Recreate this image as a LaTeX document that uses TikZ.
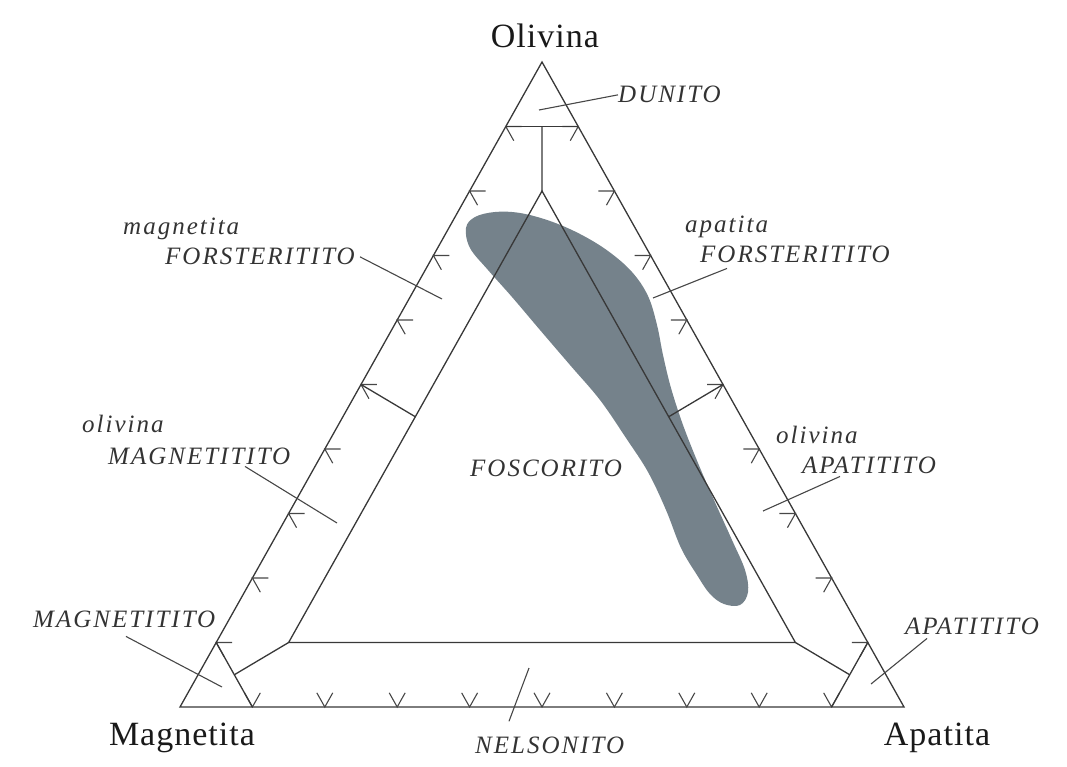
\documentclass[tikz,border=0pt]{standalone}
\usepackage{fontspec}
\setmainfont{Liberation Serif}
\newfontfamily\lblfont[LetterSpace=8]{Liberation Serif}
\newfontfamily\cornerfont[LetterSpace=3]{Liberation Serif}
\usetikzlibrary{calc}
\definecolor{blobgrey}{RGB}{117,130,139}

\begin{document}
\begin{tikzpicture}[
    x=1pt,
    y=-1pt,
    edge/.style={
        draw=black!78,
        line width=1.3pt
    },
    tick/.style={
        draw=black!72,
        line width=1.1pt
    },
    pointer/.style={
        draw=black!72,
        line width=1.1pt
    },
    field/.style={
        font=\lblfont\itshape\fontsize{25}{30}\selectfont,
        text=black!80,
        inner sep=0pt,
        anchor=base west
    },
    corner/.style={
        font=\cornerfont\fontsize{34}{40}\selectfont,
        text=black!90,
        inner sep=0pt,
        anchor=base
    }
]
\useasboundingbox (0,0) rectangle (1067,767);

% Corners
\coordinate (Ol) at (542,62);
\coordinate (Mt) at (180,707);
\coordinate (Ap) at (904,707);

% Field of the samples
\fill[blobgrey] plot[smooth cycle, tension=0.6] coordinates {
    (466,228) (475,217) (495,212) (520,213) (550,221) (580,234)
    (608,251) (632,272) (648,296) (657,325) (663,355) (671,388)
    (683,425) (698,463) (714,500) (732,540) (745,570) (748,592)
    (740,605) (724,604) (710,594) (697,575) (681,548) (666,510)
    (648,472) (626,438) (600,400) (570,365) (540,330) (512,297)
    (488,270) (470,248)};

% Outer triangle
\draw[edge] (Ol) -- (Mt) -- (Ap) -- cycle;

% Ticks every 10%
\foreach \i in {1,...,9} {
    \coordinate (t) at ($(Mt)!\i/10!(Ol)$);
    \draw[tick] ($(t)+0.022*(Ap)-0.022*(Mt)$) -- (t) -- ($(t)+0.022*(Ap)-0.022*(Ol)$);
    \coordinate (t) at ($(Mt)!\i/10!(Ap)$);
    \draw[tick] ($(t)+0.022*(Ol)-0.022*(Mt)$) -- (t) -- ($(t)+0.022*(Ol)-0.022*(Ap)$);
    \coordinate (t) at ($(Ap)!\i/10!(Ol)$);
    \draw[tick] ($(t)+0.022*(Mt)-0.022*(Ap)$) -- (t) -- ($(t)+0.022*(Mt)-0.022*(Ol)$);
}

% Field boundaries
\coordinate (o90a) at ($(Mt)!0.9!(Ol)$);
\coordinate (o90b) at ($(Ap)!0.9!(Ol)$);
\coordinate (o90c) at ($(o90a)!0.5!(o90b)$);
\coordinate (m90a) at ($(Mt)!0.1!(Ol)$);
\coordinate (m90b) at ($(Mt)!0.1!(Ap)$);
\coordinate (m90c) at ($(m90a)!0.5!(m90b)$);
\coordinate (a90a) at ($(Ap)!0.1!(Ol)$);
\coordinate (a90b) at ($(Ap)!0.1!(Mt)$);
\coordinate (a90c) at ($(a90a)!0.5!(a90b)$);
\coordinate (intop) at ($0.8*(Ol)+0.1*(Mt)+0.1*(Ap)$);
\coordinate (inleft) at ($0.1*(Ol)+0.8*(Mt)+0.1*(Ap)$);
\coordinate (inright) at ($0.1*(Ol)+0.1*(Mt)+0.8*(Ap)$);
\coordinate (mfa) at ($0.45*(Ol)+0.45*(Mt)+0.1*(Ap)$);
\coordinate (mfb) at ($(Mt)!0.5!(Ol)$);
\coordinate (afa) at ($0.45*(Ol)+0.1*(Mt)+0.45*(Ap)$);
\coordinate (afb) at ($(Ap)!0.5!(Ol)$);

\draw[edge] (o90a) -- (o90b);
\draw[edge] (o90c) -- (intop);
\draw[edge] (inleft) -- (intop) -- (inright) -- cycle;
\draw[edge] (m90a) -- (m90b);
\draw[edge] (inleft) -- (m90c);
\draw[edge] (a90a) -- (a90b);
\draw[edge] (inright) -- (a90c);
\draw[edge] (mfa) -- (mfb);
\draw[edge] (afa) -- (afb);

% Corner labels
\node[corner] (olv) at (545,48) {Olivina};
\node[corner] (mag) at (182,745) {Magnetita};
\node[corner] (apa) at (937,745) {Apatita};

% Field labels
\node[field] (dun) at (618,103) {DUNITO};
\node[field] (mfq) at (123,235) {magnetita};
\node[field] (mfs) at (165,265) {FORSTERITITO};
\node[field] (afq) at (685,233) {apatita};
\node[field] (afs) at (700,262) {FORSTERITITO};
\node[field] (omq) at (82,432) {olivina};
\node[field] (oms) at (108,464) {MAGNETITITO};
\node[field] (oaq) at (776,443) {olivina};
\node[field] (oas) at (802,473) {APATITITO};
\node[field] (fos) at (470,476) {FOSCORITO};
\node[field] (mgt) at (33,627) {MAGNETITITO};
\node[field] (apt) at (905,634) {APATITITO};
\node[field] (nel) at (475,753) {NELSONITO};

% Pointers
\coordinate (dunp) at (539,110);
\coordinate (mfp) at (442,299);
\coordinate (afp) at (653,298);
\coordinate (omp) at (337,523);
\coordinate (oap) at (763,511);
\coordinate (mgp) at (222,687);
\coordinate (app) at (871,684);
\coordinate (nelp) at (529,668);

\draw[pointer] (dunp) -- (dun.west);
\draw[pointer] ([xshift=5pt]mfs.east) -- (mfp);
\draw[pointer] (afp) -- ([xshift=27pt,yshift=-6pt]afs.south west);
\draw[pointer] ([xshift=137pt,yshift=-2pt]oms.south west) -- (omp);
\draw[pointer] (oap) -- ([xshift=38pt,yshift=-3pt]oas.south west);
\draw[pointer] ([xshift=93pt,yshift=-9pt]mgt.south west) -- (mgp);
\draw[pointer] (app) -- ([xshift=22pt,yshift=-4pt]apt.south west);
\draw[pointer] ([xshift=34pt,yshift=15pt]nel.north west) -- (nelp);

\end{tikzpicture}
\end{document}
